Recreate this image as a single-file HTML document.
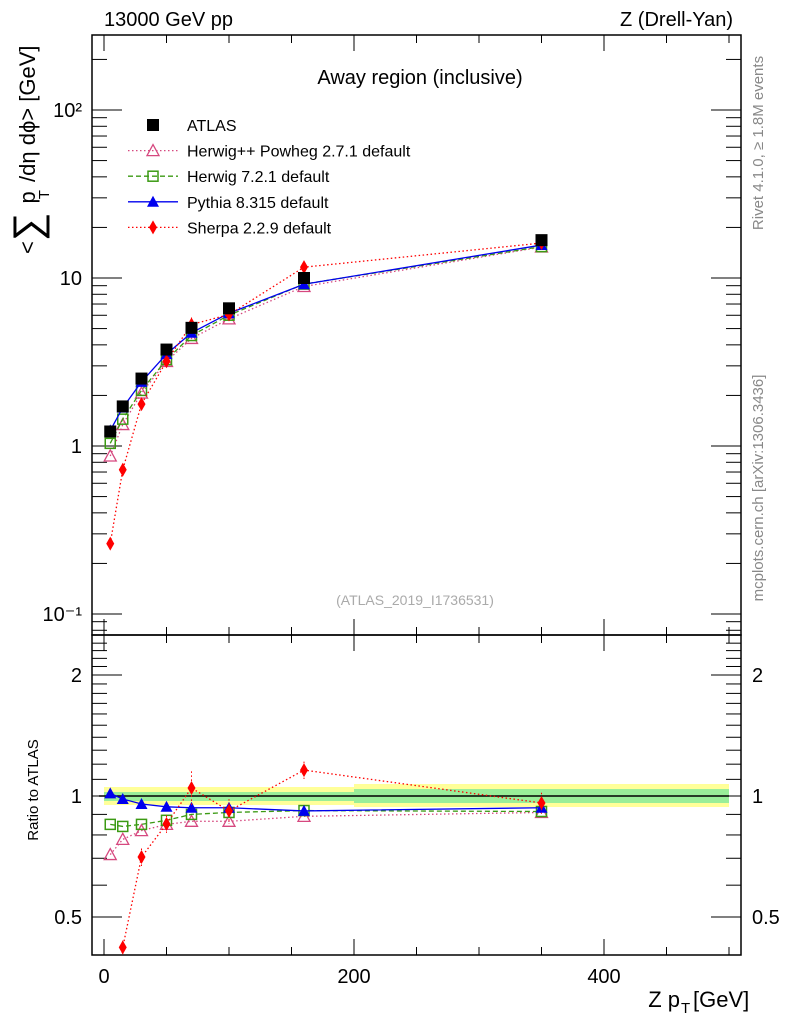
<!DOCTYPE html>
<html><head><meta charset="utf-8"><style>
body{margin:0;background:#fff;}
svg text{font-family:"Liberation Sans",sans-serif;}
</style></head><body>
<svg id="c" width="786" height="1024" xmlns="http://www.w3.org/2000/svg"></svg>
<script>
const xVals=[5,15,30,50,70,100,160,350];
const atlas=[1.22,1.72,2.52,3.75,5.05,6.6,10.0,16.8];
const herwigpp=[0.715,0.78,0.82,0.85,0.865,0.865,0.89,0.91];
const herwig7=[0.85,0.84,0.85,0.87,0.90,0.91,0.92,0.915];
const pythia=[1.015,0.983,0.955,0.94,0.935,0.935,0.918,0.935];
const sherpa=[0.215,0.42,0.705,0.852,1.047,0.918,1.16,0.961];
const sherpaErr=[0.02,0.04,0.05,0.05,0.1,0.07,0.05,0.06];
const xTicks=[0,200,400];
const mainTicks=[0.1,1,10,100];
const mainLabels=["10\u207B\u00B9","1","10","10\u00B2"];
const ratioTicks=[0.5,1,2];

const svg=document.getElementById('c');
const NS='http://www.w3.org/2000/svg';
function el(t,a,p){const e=document.createElementNS(NS,t);for(const k in a)e.setAttribute(k,a[k]);(p||svg).appendChild(e);return e;}
const L=92,R=741,T=35,MB=635,RB=955;
const X=v=>104+(v)*1.25;
const YM=v=>446-168*Math.log10(v);
const YR=v=>796-121*Math.log2(v);

const bands=[[0,200,787,805,792,801],[200,500,784,807,789,803]];
bands.forEach((b,i)=>{
 let r=el('rect',{x:X(b[0]),y:b[2],width:X(b[1])-X(b[0]),height:b[3]-b[2],fill:'#ffff99'});
 
 r=el('rect',{x:X(b[0]),y:b[4],width:X(b[1])-X(b[0]),height:b[5]-b[4],fill:'#99ee99'});
 
});
el('line',{x1:X(0)-5,x2:X(500),y1:YR(1),y2:YR(1),stroke:'#000','stroke-width':1.5});

[[T,MB],[MB,RB]].forEach(f=>{const r=el('rect',{x:L,y:f[0],width:R-L,height:f[1]-f[0],fill:'none',stroke:'#000','stroke-width':1.5});});

for(let v=0;v<=500;v+=50){const maj=v%200===0;const l=maj?16:8;
 [[T,1],[MB,-1],[MB,1],[RB,-1]].forEach(([y,d])=>el('line',{x1:X(v),x2:X(v),y1:y,y2:y+d*l,stroke:'#000'}));}
xTicks.forEach(v=>{const t=el('text',{x:X(v),y:983,'font-size':20,'text-anchor':'middle'});t.textContent=v;});

for(let d=-2;d<=2;d++)for(let m=1;m<=9;m++){const v=m*Math.pow(10,d);const y=YM(v);if(y<T||y>MB)continue;const l=m===1?30:15;
 el('line',{x1:L,x2:L+l,y1:y,y2:y,stroke:'#000'});el('line',{x1:R,x2:R-l,y1:y,y2:y,stroke:'#000'});}
mainTicks.forEach((v,i)=>{const t=el('text',{x:82,y:YM(v)+7,'font-size':20,'text-anchor':'end'});t.textContent=mainLabels[i];});
for(let v=0.4;v<=2.5;v+=0.1){const y=YR(v);if(y<MB||y>RB)continue;const maj=[0.5,1,2].some(q=>Math.abs(q-v)<1e-6);const l=maj?30:15;
 el('line',{x1:L,x2:L+l,y1:y,y2:y,stroke:'#000'});el('line',{x1:R,x2:R-l,y1:y,y2:y,stroke:'#000'});}
ratioTicks.forEach(v=>{[[82,'end'],[752,'start']].forEach(([x,a])=>{const t=el('text',{x:x,y:YR(v)+7,'font-size':20,'text-anchor':a});t.textContent=v;});});

function marker(type,x,y,col,g){
 if(type==='sq')return el('rect',{x:x-6,y:y-6,width:12,height:12,fill:col},g);
 if(type==='osq')return el('rect',{x:x-5,y:y-5,width:10,height:10,fill:'none',stroke:col,'stroke-width':1.5},g);
 if(type==='otri')return el('path',{d:`M${x},${y-6}L${x+6},${y+5}L${x-6},${y+5}Z`,fill:'none',stroke:col,'stroke-width':1.3},g);
 if(type==='tri')return el('path',{d:`M${x},${y-6}L${x+6},${y+5}L${x-6},${y+5}Z`,fill:col},g);
 if(type==='dia')return el('path',{d:`M${x},${y-7}L${x+4},${y}L${x},${y+7}L${x-4},${y}Z`,fill:col},g);
}
const series=[
 {name:'herwigpp',r:herwigpp,col:'#d6487f',dash:'1.5,2.5',m:'otri'},
 {name:'herwig7',r:herwig7,col:'#3b9a13',dash:'5,3',m:'osq'},
 {name:'pythia',r:pythia,col:'#0000ee',dash:'',m:'tri'},
 {name:'sherpa',r:sherpa,col:'#ff0000',dash:'1.5,2.5',m:'dia'}];
const clipM=el('clipPath',{id:'cm'});el('rect',{x:L,y:T,width:R-L,height:MB-T},clipM);
const clipR=el('clipPath',{id:'cr'});el('rect',{x:L,y:MB,width:R-L,height:RB-MB},clipR);
series.forEach(s=>{
 const gm=el('g',{'clip-path':'url(#cm)'});
 const gr=el('g',{'clip-path':'url(#cr)'});
 const pm=xVals.map((x,i)=>[X(x),YM(s.r[i]*atlas[i])]);
 const pr=xVals.map((x,i)=>[X(x),YR(s.r[i])]);
 el('polyline',{points:pm.join(' '),fill:'none',stroke:s.col,'stroke-width':1.3,'stroke-dasharray':s.dash},gm);
 el('polyline',{points:pr.join(' '),fill:'none',stroke:s.col,'stroke-width':1.3,'stroke-dasharray':s.dash},gr);
 if(s.name==='sherpa'){xVals.forEach((x,i)=>{const e=sherpaErr[i];
  el('line',{x1:X(x),x2:X(x),y1:YR(s.r[i]*(1+e)),y2:YR(s.r[i]*(1-e)),stroke:s.col,'stroke-dasharray':'1.5,2.5'},gr);
  el('line',{x1:X(x),x2:X(x),y1:YM(s.r[i]*atlas[i]*(1+e)),y2:YM(s.r[i]*atlas[i]*(1-e)),stroke:s.col,'stroke-dasharray':'1.5,2.5'},gm);});}
 pm.forEach(p=>marker(s.m,p[0],p[1],s.col,gm));
 pr.forEach(p=>marker(s.m,p[0],p[1],s.col,gr));
});
const ga=el('g',{});
xVals.forEach((x,i)=>marker('sq',X(x),YM(atlas[i]),'#000',ga));

const leg=[['ATLAS','#000','','sq'],['Herwig++ Powheg 2.7.1 default','#d6487f','1.5,2.5','otri'],['Herwig 7.2.1 default','#3b9a13','5,3','osq'],['Pythia 8.315 default','#0000ee','','tri'],['Sherpa 2.2.9 default','#ff0000','1.5,2.5','dia']];
leg.forEach((l,i)=>{const y=125+i*25.6;const g=el('g',{});
 if(i>0)el('line',{x1:128,x2:178,y1:y,y2:y,stroke:l[1],'stroke-width':1.3,'stroke-dasharray':l[2]},g);
 marker(l[3],153,y,l[1],g);
 const t=el('text',{x:187,y:y+6,'font-size':16},g);t.textContent=l[0];});

function txt(s,a,name){const t=el('text',a);t.textContent=s;return t;}
txt('13000 GeV pp',{x:104,y:26,'font-size':20},'energy-label');
txt('Z (Drell-Yan)',{x:733,y:26,'font-size':20,'text-anchor':'end'},'process-label');
txt('Away region (inclusive)',{x:420,y:84,'font-size':20,'text-anchor':'middle'},'plot-title');
txt('(ATLAS_2019_I1736531)',{x:415,y:605,'font-size':14,fill:'#aaa','text-anchor':'middle'},'analysis-id');
txt('Z p',{x:680,y:1007,'font-size':22,'text-anchor':'end'},'x-axis-title');
txt('T',{x:681,y:1013,'font-size':15},'x-axis-title-sub');
txt('[GeV]',{x:693,y:1007,'font-size':22},'x-axis-title-unit');
const yt=el('text',{x:0,y:0,'font-size':22,transform:'translate(35,254) rotate(-90)'});

const parts=[['<',{}],['∑',{'font-size':40,dy:6}],[' p',{dy:-6,dx:3}],['T',{'font-size':15,dy:14,dx:-8}],[' /dη dϕ> [GeV]',{dy:-14,dx:2}]];
parts.forEach(([s,a])=>{const sp=el('tspan',a,yt);sp.textContent=s;});
txt('Ratio to ATLAS',{x:0,y:0,'font-size':15,transform:'translate(38,790) rotate(-90)','text-anchor':'middle'},'ratio-axis-title');
txt('Rivet 4.1.0, ≥ 1.8M events',{x:0,y:0,'font-size':15,fill:'#888',transform:'translate(763,143) rotate(-90)','text-anchor':'middle'},'rivet-label');
txt('mcplots.cern.ch [arXiv:1306.3436]',{x:0,y:0,'font-size':15,fill:'#888',transform:'translate(763,488) rotate(-90)','text-anchor':'middle'},'mcplots-label');
</script>
</body></html>
